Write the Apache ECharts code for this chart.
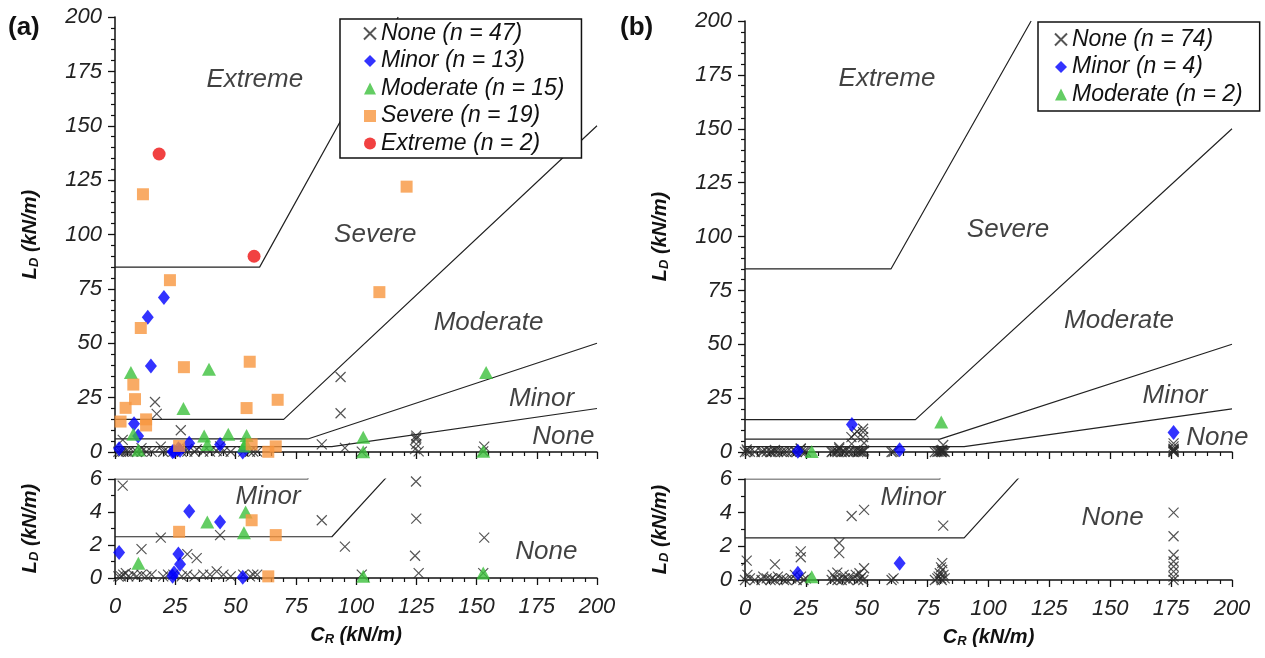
<!DOCTYPE html>
<html><head><meta charset="utf-8">
<script src="https://cdn.jsdelivr.net/npm/echarts@6/dist/echarts.min.js"></script>
<style>html,body{margin:0;padding:0;background:#fff}#c{width:1265px;height:658px}</style>
</head><body><div id="c"></div>
<script>
// ---------- DATA ----------
const xTicks = [0,25,50,75,100,125,150,175,200];
const yTopTicks = [0,25,50,75,100,125,150,175,200];
const yBotTicks = [0,2,4,6];

// Damage threshold lines [CR, LD]
const extremeLine  = [[0,85],[60,85],[117.5,200]];
const severeLine   = [[0,15],[70,15],[200,150]];
const moderateLine = [[0,6],[80,6],[200,50]];
const minorLine    = [[0,2.5],[90,2.5],[200,20]];

// Panel (a)
const aNone = [[1.4,0.1],[3.4,0.2],[5.5,0.1],[7.6,0.2],[11,0.2],[15.2,0.2],[24.2,0.2],[27.7,0.1],[30,0.2],[36.6,0.2],[39.4,0.2],[42.2,0.4],[53.2,0.2],[57.4,0.2],
  [3.2,5.6],[11,1.75],[19,2.45],[43.6,2.6],[30,1.45],[33.9,1.2],[85.8,3.5],[95.4,1.9],
  [124.9,5.85],[125,3.6],[124.5,1.35],[153.2,2.45],[102.4,0.2],[152.8,0.3],
  [93.6,34.5],[93.6,17.8],[16.6,23],[17.3,17.5],[27.3,10],[125,7.5],[125,6.6],
  [2.5,0.1],[4.5,0.3],[9,0.1],[13,0.1],[20,0.1],[22,0.2],[33,0.1],[45,0.2],[48,0.1],[56,0.1],[126,0.3],[59,0.2]];
const aMinor = [[20.3,71],[13.6,62],[14.9,39.5],[7.9,13],[1.7,1.55],[30.8,4.05],[43.6,3.4],[26.3,1.45],[27,0.83],[23.9,0.1],[53,0.05],[9.6,7.3],[24.5,0.3]];
const aModerate = [[6.6,36.5],[39,38],[28.4,20],[7.6,8.2],[37,7.3],[47,8.2],[54.6,7.6],[103,6.8],[103,0.1],[154,36.5],[152.8,0.3],[9.7,0.9],[38.3,3.4],[54.2,4.0],[53.5,2.75]];
const aSevere = [[11.6,118.5],[22.8,79],[10.7,57],[28.6,39],[55.9,41.5],[7.6,31],[8.3,24.3],[4.4,20.3],[54.6,20.2],[67.5,24],[2.3,14],[12.9,15],[12.9,12.2],[26.6,2.8],[56.7,3.5],[66.7,2.6],[63.6,0.1],[109.7,73.5],[121,122]];
const aExtreme = [[18.3,137],[57.7,90]];

// Panel (b)
const bNone = [[46,9.5],[48.5,10.8],[48.5,9.2],[43.7,6.9],[48.5,6.9],[45,8.3],
  [43.8,3.8],[48.9,4.17],[81.4,3.23],[38.7,2.2],[38.7,1.6],[22.9,1.7],[22.9,1.35],[0.7,1.15],[12.3,0.93],[48.9,0.7],[37.9,0.44],
  [81,1.0],[80.5,0.75],[80,0.4],[80.5,0.1],[81,0.6],[79.5,0.2],
  [176,4.0],[176,2.6],[176,1.1],[176,0.5],[176,0.2],[176,0.8],
  [0,0],[2,0.1],[6.8,0],[8.9,0.1],[10.5,0],[12.3,0],[15,0.1],[17.1,0],[19,0.1],[21.2,0],[25,0.1],[35.6,0],[37,0.1],[39.7,0],[41,0.1],[42.4,0],[44.5,0.1],[46.5,0],[47.5,0.1],[48.6,0],[60.2,0],[78,0],[80.8,0],[82,0.1],
  [1,0.3],[4,0],[7.5,0.2],[11,0.1],[13.5,0.2],[16,0],[20.5,0.3],[23,0.2],[36,0.3],[38,0],[40.5,0.3],[43,0.2],[45.5,0.3],[47,0.4],[48,0.2],[79,0.1],[81.5,0.3],[176,0],[176,1.5],[61,0.1],[24,0]];
const bMinor = [[43.9,12.8],[63.5,1.0],[21.7,0.4],[176,9]];
const bModerate = [[80.6,13.9],[27.4,0.2]];

// Region labels [CR, LD, text]
const aTopLabels = [[58,171,'Extreme'],[108,100,'Severe'],[155,59.5,'Moderate'],[177,24.5,'Minor'],[186,6.8,'None']];
const aBotLabels = [[63.5,4.9,'Minor'],[179,1.6,'None']];
const bTopLabels = [[58.3,173,'Extreme'],[108,103,'Severe'],[153.6,61,'Moderate'],[176.6,26,'Minor'],[194,6.8,'None']];
const bBotLabels = [[69,4.9,'Minor'],[151,3.7,'None']];

const aNames = ['None (n = 47)','Minor (n = 13)','Moderate (n = 15)','Severe (n = 19)','Extreme (n = 2)'];
const bNames = ['None (n = 74)','Minor (n = 4)','Moderate (n = 2)'];

// ---------- STYLE ----------
const FONT = '"Liberation Sans", Arial, sans-serif';
const CROSS = 'path://M0,0L10,10M10,0L0,10';
const C = {none:'#2a2a2a', minor:'#0000ff', moderate:'#3cc03c', severe:'#f7963f', extreme:'#ee1111'};
const richTitle = {
  i:{fontSize:20,fontWeight:'bold',fontStyle:'italic',fontFamily:FONT,color:'#111'},
  s:{fontSize:13,fontWeight:'bold',fontStyle:'italic',fontFamily:FONT,color:'#111',padding:[9,0,0,0]}
};
const grids = [
  {left:115, top:17,  width:482, height:435},
  {left:115, top:479, width:482, height:99},
  {left:745, top:21,  width:487, height:431},
  {left:745, top:479, width:487, height:101}
];
const lab = {fontSize:22,fontStyle:'italic',fontFamily:FONT,color:'#222'};
function xAxis(gi, showLabel){
  return {type:'value', gridIndex:gi, min:xTicks[0], max:xTicks[xTicks.length-1], interval:xTicks[1]-xTicks[0],
    splitLine:{show:false},
    axisLine:{show:true,onZero:false,lineStyle:{color:'#111',width:1.5}},
    axisTick:{show:true,inside:false,length:7,lineStyle:{color:'#111',width:1.3}},
    minorTick:{show:true,splitNumber:5,length:4,lineStyle:{color:'#111',width:1.2}},
    axisLabel:Object.assign({show:showLabel,margin:18},lab),
    name: showLabel ? '{i|C}{s|R}{i| (kN/m)}' : '', nameLocation:'middle', nameGap:46,
    nameTextStyle:{rich:richTitle}};
}
function yAxis(gi, ticks, minorSplit){
  return {type:'value', gridIndex:gi, min:ticks[0], max:ticks[ticks.length-1], interval:ticks[1]-ticks[0],
    splitLine:{show:false},
    axisLine:{show:true,onZero:false,lineStyle:{color:'#111',width:1.5}},
    axisTick:{show:true,length:7,lineStyle:{color:'#111',width:1.3}},
    minorTick:{show:true,splitNumber:minorSplit,length:4,lineStyle:{color:'#111',width:1.2}},
    axisLabel:Object.assign({margin:13},lab),
    name:'{i|L}{s|D}{i| (kN/m)}', nameLocation:'middle', nameGap:74,
    nameTextStyle:{rich:richTitle}};
}
const series = [];
function addLines(gi){
  [extremeLine,severeLine,moderateLine,minorLine].forEach(d=>{
    series.push({type:'line', xAxisIndex:gi, yAxisIndex:gi, data:d, showSymbol:false, symbol:'none', silent:true, clip:true,
      lineStyle:{color:'#222',width:1.2}, z:1});
  });
}
function addScatter(gi, name, data, kind){
  const base = {type:'scatter', name:name, xAxisIndex:gi, yAxisIndex:gi, data:data, clip:true, z:3};
  if(kind==='none') Object.assign(base,{symbol:CROSS, symbolSize:10, itemStyle:{color:'rgba(0,0,0,0)',borderColor:C.none,borderWidth:1.2}});
  if(kind==='minor') Object.assign(base,{symbol:'diamond', symbolSize:[12,15], itemStyle:{color:C.minor}});
  if(kind==='moderate') Object.assign(base,{symbol:'triangle', symbolSize:[14,13], itemStyle:{color:C.moderate}});
  if(kind==='severe') Object.assign(base,{symbol:'rect', symbolSize:12, itemStyle:{color:C.severe}});
  if(kind==='extreme') Object.assign(base,{symbol:'circle', symbolSize:13, itemStyle:{color:C.extreme}});
  series.push(base);
}
function addLabels(gi, arr){
  series.push({type:'scatter', xAxisIndex:gi, yAxisIndex:gi, symbolSize:0, silent:true, z:4,
    data: arr.map(a=>({value:[a[0],a[1]], name:a[2]})),
    label:{show:true, position:'inside', formatter:'{b}', fontSize:26, fontStyle:'italic', fontFamily:FONT, color:'#111'}});
}
const kinds = ['none','minor','moderate','severe','extreme'];
const aData = [aNone,aMinor,aModerate,aSevere,aExtreme];
const bData = [bNone,bMinor,bModerate];
[0,1].forEach(gi=>{ addLines(gi); aData.forEach((d,k)=>addScatter(gi,aNames[k],d,kinds[k])); });
[2,3].forEach(gi=>{ addLines(gi); bData.forEach((d,k)=>addScatter(gi,bNames[k],d,kinds[k])); });
addLabels(0,aTopLabels); addLabels(1,aBotLabels); addLabels(2,bTopLabels); addLabels(3,bBotLabels);

const legendBase = {orient:'vertical', selectedMode:false, backgroundColor:'#fff', borderColor:'#111', borderWidth:1.5, borderRadius:0,
  itemWidth:12, itemHeight:12, itemGap:4.5, z:10,
  textStyle:{fontSize:23,fontStyle:'italic',fontFamily:FONT,color:'#111'}};

const option = {
  animation:false,
  backgroundColor:'#fff',
  grid:grids,
  xAxis:[xAxis(0,false),xAxis(1,true),xAxis(2,false),xAxis(3,true)],
  yAxis:[yAxis(0,yTopTicks,5),yAxis(1,yBotTicks,2),yAxis(2,yTopTicks,5),yAxis(3,yBotTicks,2)],
  legend:[Object.assign({},legendBase,{data:aNames,left:340,top:19,padding:[3,17,3,23]}),
          Object.assign({},legendBase,{data:bNames,left:1038,top:22,padding:[6,17,5,16]})],
  graphic:[
    {type:'text', left:8, top:15, style:{text:'(a)', font:'bold 26px '+FONT, fill:'#111'}},
    {type:'text', left:620, top:15, style:{text:'(b)', font:'bold 26px '+FONT, fill:'#111'}}
  ],
  series:series
};
const chart = echarts.init(document.getElementById('c'));
chart.setOption(option);
</script></body></html>
